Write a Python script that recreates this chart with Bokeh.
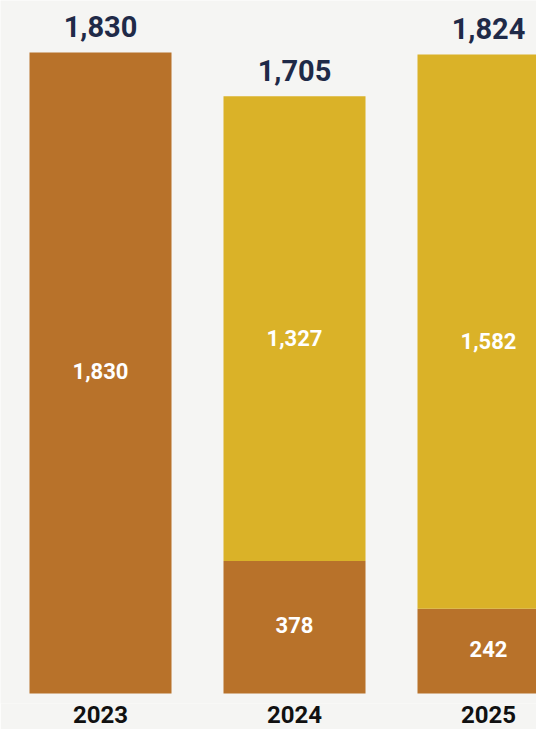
from bokeh.plotting import figure
from bokeh.models import ColumnDataSource, Range1d, FixedTicker
from bokeh.core.properties import value
from bokeh.embed import file_html
from bokeh.resources import INLINE

years = ["2023", "2024", "2025"]
lower = [1830, 378, 242]
upper = [0, 1327, 1582]
totals = [1830, 1705, 1824]

BROWN = "#B8722A"
YELLOW = "#DAB228"
NAVY = "#1F2A48"
BG = "#F5F5F3"
FONT = "Roboto"

xs = list(range(len(years)))
src = ColumnDataSource(dict(
    x=xs, lower=lower, upper=upper, total=totals,
    lower_mid=[v / 2 for v in lower],
    total_lbl=[f"{t:,}" for t in totals],
    lower_lbl=[f"{v:,}" for v in lower],
))
up_idx = [i for i, u in enumerate(upper) if u > 0]
src_up = ColumnDataSource(dict(
    x=[xs[i] for i in up_idx],
    y=[lower[i] + upper[i] / 2 for i in up_idx],
    lbl=[f"{upper[i]:,}" for i in up_idx],
))

p = figure(width=536, height=729, output_backend="svg", toolbar_location=None,
           x_range=Range1d(-0.5155, 2.2474), y_range=Range1d(-28.5, 1978.3),
           min_border_left=0, min_border_right=0, min_border_top=0, min_border_bottom=26,
           background_fill_color=BG, border_fill_color=BG)
p.outline_line_color = None
p.xgrid.visible = False
p.ygrid.visible = False
p.yaxis.visible = False

p.vbar_stack(["lower", "upper"], x="x", width=0.732, color=[BROWN, YELLOW],
             line_color=None, source=src)

p.text(x="x", y="total", text="total_lbl", source=src, y_offset=-26,
       text_align="center", text_baseline="alphabetic", text_color=NAVY,
       text_font=value(FONT), text_font_style="bold", text_font_size="29px")
p.text(x="x", y="lower_mid", text="lower_lbl", source=src, y_offset=-2,
       text_align="center", text_baseline="middle", text_color="white",
       text_font=value(FONT), text_font_style="bold", text_font_size="22px")
p.text(x="x", y="y", text="lbl", source=src_up, y_offset=9,
       text_align="center", text_baseline="middle", text_color="white",
       text_font=value(FONT), text_font_style="bold", text_font_size="22px")

ax = p.xaxis[0]
ax.ticker = FixedTicker(ticks=xs)
ax.major_label_overrides = {i: y for i, y in zip(xs, years)}
ax.axis_line_color = None
ax.major_tick_line_color = None
ax.minor_tick_line_color = None
ax.major_tick_out = 0
ax.major_tick_in = 0
ax.minor_tick_out = 0
ax.major_label_standoff = 2
ax.major_label_text_font = FONT
ax.major_label_text_font_style = "bold"
ax.major_label_text_font_size = "24px"
ax.major_label_text_color = "#111111"

open("out.html", "w").write(file_html(p, INLINE))
